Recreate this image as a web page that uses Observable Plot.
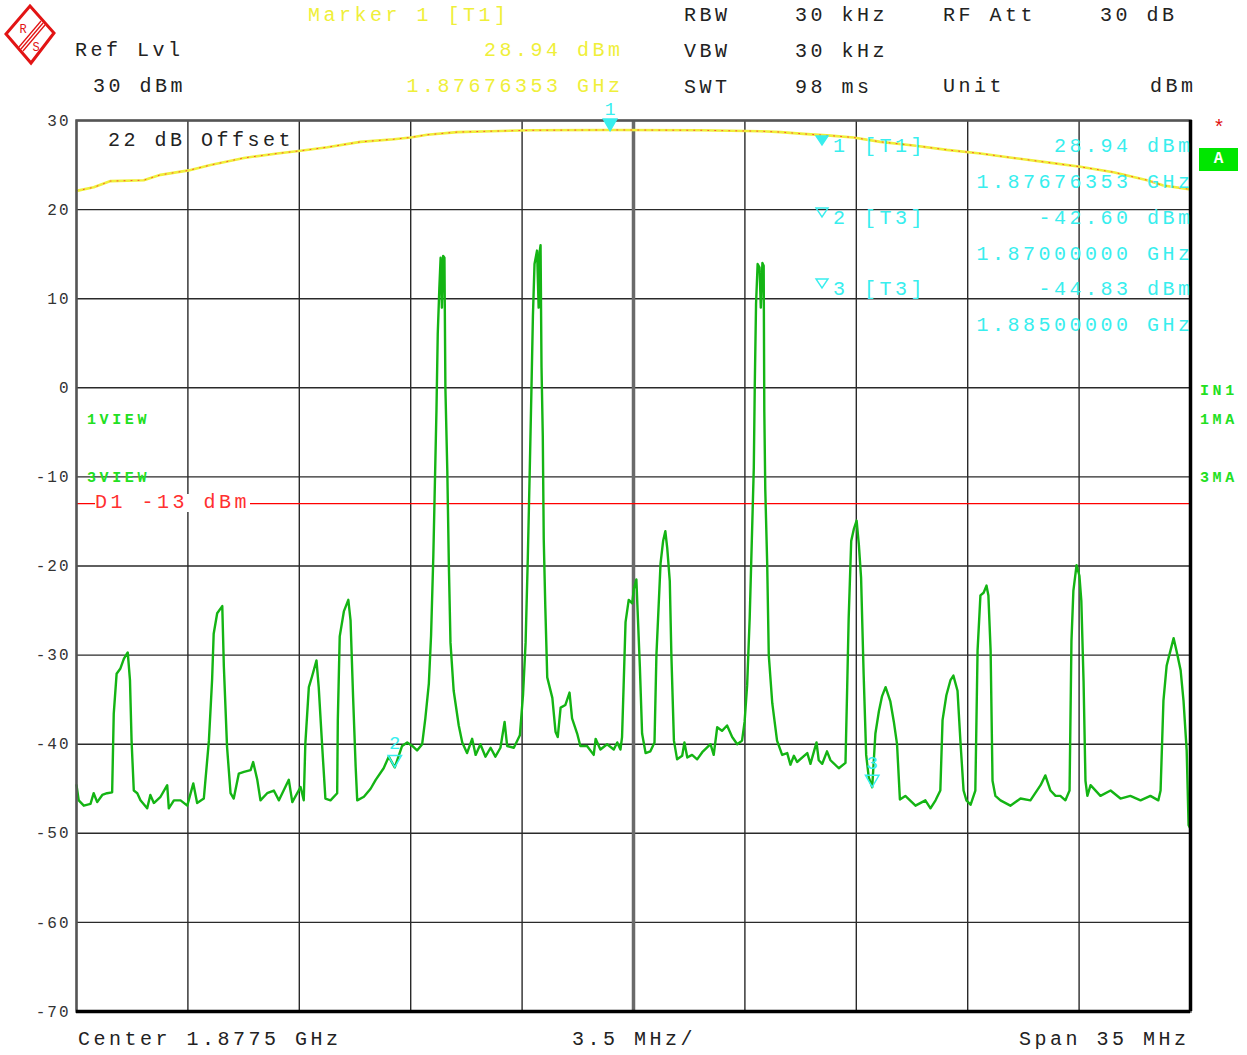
<!DOCTYPE html>
<html><head><meta charset="utf-8">
<script src="https://cdn.jsdelivr.net/npm/d3@7"></script>
<script src="https://cdn.jsdelivr.net/npm/@observablehq/plot@0.6"></script>
<style>
body{margin:0;background:#fff;}
#wrap{position:relative;width:1247px;height:1055px;overflow:hidden;font-family:"Liberation Mono",monospace;}
#wrap svg.chart{position:absolute;left:0;top:0;}
.t{position:absolute;font-size:20px;letter-spacing:3.5px;white-space:pre;line-height:18px;transform:translateY(-50%);color:#222;}
.b{font-weight:bold;font-size:15px;letter-spacing:3.6px;color:#22e022;}
g[aria-label="y-axis tick label"] text{letter-spacing:2px;}
</style></head>
<body><div id="wrap"></div>
<script>
// ---- data ----
const xDomain = [1860, 1895];            // MHz  (Center 1.8775 GHz, Span 35 MHz)
const gridFreq = [1860, 1863.5, 1867, 1870.5, 1874, 1877.5, 1881, 1884.5, 1888, 1891.5, 1895];
const centerFreq = [1877.5];
const yTicks = [30, 20, 10, 0, -10, -20, -30, -40, -50, -60, -70];
const limitLine = [-13];

// trace 3 (green), [MHz, dBm]
const trace3 = [
[1860.00,-44.6],[1860.07,-46.3],[1860.23,-46.9],[1860.44,-46.7],[1860.54,-45.5],[1860.65,-46.5],[1860.81,-45.7],[1860.96,-45.5],
[1861.12,-45.4],[1861.17,-36.6],[1861.26,-32.1],[1861.38,-31.5],[1861.49,-30.4],[1861.61,-29.7],[1861.68,-32.8],[1861.73,-39.6],
[1861.80,-45.2],[1861.91,-45.5],[1862.01,-46.3],[1862.22,-47.2],[1862.32,-45.7],[1862.43,-46.6],[1862.64,-45.9],[1862.85,-44.6],
[1862.90,-47.2],[1863.06,-46.3],[1863.27,-46.3],[1863.48,-46.9],[1863.67,-44.4],[1863.79,-46.6],[1864.00,-46.1],[1864.16,-39.6],
[1864.26,-32.8],[1864.31,-27.6],[1864.42,-25.3],[1864.58,-24.5],[1864.63,-31.3],[1864.73,-40.3],[1864.84,-45.5],[1864.94,-46.1],
[1865.10,-43.3],[1865.26,-43.1],[1865.47,-42.9],[1865.55,-42.0],[1865.68,-44.0],[1865.78,-46.3],[1865.99,-45.5],[1866.20,-45.2],
[1866.36,-46.3],[1866.67,-44.0],[1866.78,-46.5],[1867.04,-44.8],[1867.14,-46.3],[1867.19,-39.9],[1867.30,-33.6],[1867.40,-32.4],
[1867.54,-30.6],[1867.61,-33.6],[1867.72,-40.3],[1867.82,-46.1],[1867.98,-46.3],[1868.19,-45.5],[1868.21,-37.3],[1868.27,-27.9],
[1868.40,-25.1],[1868.54,-23.8],[1868.61,-26.1],[1868.69,-34.7],[1868.77,-42.5],[1868.82,-46.3],[1869.03,-45.9],[1869.24,-45.0],
[1869.40,-44.0],[1869.65,-42.7],[1869.81,-41.4],[1870.00,-42.6],[1870.23,-40.2],[1870.39,-39.8],[1870.55,-40.2],[1870.70,-40.7],
[1870.86,-40.0],[1870.96,-37.1],[1871.07,-33.2],[1871.14,-27.8],[1871.21,-19.0],[1871.25,-12.4],[1871.31,-2.4],[1871.35,6.1],
[1871.40,11.2],[1871.44,14.6],[1871.48,9.0],[1871.52,14.8],[1871.56,14.6],[1871.59,0.0],[1871.65,-9.3],[1871.70,-20.1],
[1871.75,-28.6],[1871.85,-34.0],[1872.01,-37.9],[1872.12,-39.8],[1872.27,-41.0],[1872.43,-39.4],[1872.54,-41.2],[1872.69,-40.0],
[1872.85,-41.4],[1873.01,-40.4],[1873.16,-41.4],[1873.32,-40.4],[1873.45,-37.5],[1873.53,-40.2],[1873.74,-40.4],[1873.93,-39.0],
[1874.03,-34.4],[1874.11,-28.6],[1874.18,-19.0],[1874.24,-9.3],[1874.29,-0.8],[1874.34,8.1],[1874.39,13.9],[1874.47,15.4],
[1874.52,9.0],[1874.55,15.2],[1874.58,16.0],[1874.61,2.3],[1874.65,-5.4],[1874.68,-17.0],[1874.73,-24.7],[1874.79,-32.5],
[1874.95,-34.8],[1875.05,-38.6],[1875.12,-39.2],[1875.21,-35.9],[1875.36,-35.6],[1875.49,-34.2],[1875.57,-37.1],[1875.73,-38.8],
[1875.83,-40.2],[1876.04,-40.2],[1876.25,-41.2],[1876.31,-39.4],[1876.46,-40.6],[1876.67,-40.0],[1876.88,-40.6],[1876.99,-39.8],
[1877.09,-40.6],[1877.14,-39.2],[1877.19,-33.4],[1877.25,-26.3],[1877.35,-23.8],[1877.46,-24.2],[1877.51,-22.6],[1877.59,-21.5],
[1877.63,-25.1],[1877.70,-31.3],[1877.77,-38.8],[1877.88,-41.0],[1878.03,-40.8],[1878.16,-39.8],[1878.22,-30.0],[1878.35,-19.7],
[1878.43,-17.2],[1878.50,-16.1],[1878.56,-18.0],[1878.64,-21.7],[1878.69,-30.0],[1878.77,-39.6],[1878.87,-41.7],[1879.03,-41.3],
[1879.10,-39.8],[1879.19,-41.5],[1879.34,-41.2],[1879.50,-41.7],[1879.66,-40.9],[1879.92,-40.0],[1880.02,-41.2],[1880.13,-38.1],
[1880.28,-38.5],[1880.44,-37.9],[1880.60,-39.2],[1880.76,-40.0],[1880.91,-39.6],[1880.99,-37.5],[1881.07,-33.4],[1881.15,-25.9],
[1881.23,-15.5],[1881.28,-8.9],[1881.31,0.2],[1881.35,9.4],[1881.40,13.9],[1881.46,13.5],[1881.50,9.0],[1881.55,14.0],
[1881.59,13.7],[1881.61,-2.7],[1881.64,-11.4],[1881.70,-19.7],[1881.75,-30.0],[1881.86,-35.4],[1882.01,-39.6],[1882.17,-41.2],
[1882.33,-41.0],[1882.43,-42.3],[1882.54,-41.3],[1882.64,-42.0],[1882.96,-41.0],[1883.06,-42.2],[1883.25,-39.8],[1883.32,-41.8],
[1883.43,-42.2],[1883.58,-40.8],[1883.69,-41.8],[1883.95,-42.7],[1884.16,-42.1],[1884.21,-34.2],[1884.26,-25.9],[1884.34,-17.2],
[1884.42,-15.9],[1884.51,-14.9],[1884.58,-17.6],[1884.65,-21.3],[1884.73,-32.1],[1884.81,-41.2],[1884.89,-43.7],[1885.00,-44.83],
[1885.10,-38.8],[1885.21,-36.3],[1885.31,-34.6],[1885.42,-33.6],[1885.57,-35.2],[1885.68,-37.5],[1885.78,-40.0],[1885.87,-46.2],
[1886.04,-45.8],[1886.36,-46.9],[1886.67,-46.3],[1886.83,-47.2],[1886.99,-46.3],[1887.14,-45.2],[1887.21,-37.3],[1887.33,-34.5],
[1887.46,-32.8],[1887.55,-32.3],[1887.68,-34.0],[1887.77,-39.6],[1887.87,-45.2],[1887.96,-46.3],[1888.09,-46.8],[1888.24,-45.2],
[1888.31,-29.5],[1888.40,-23.3],[1888.50,-23.0],[1888.59,-22.2],[1888.65,-23.3],[1888.72,-29.5],[1888.78,-44.1],[1888.87,-45.8],
[1889.03,-46.3],[1889.34,-46.9],[1889.66,-46.1],[1889.97,-46.3],[1890.29,-44.6],[1890.44,-43.5],[1890.60,-45.2],[1890.76,-45.8],
[1890.91,-45.8],[1891.07,-46.3],[1891.20,-45.2],[1891.26,-28.4],[1891.32,-22.8],[1891.42,-19.9],[1891.51,-21.1],[1891.57,-23.9],
[1891.64,-32.9],[1891.70,-44.1],[1891.76,-45.8],[1891.86,-44.6],[1892.17,-45.8],[1892.49,-45.2],[1892.80,-46.1],[1893.11,-45.8],
[1893.43,-46.3],[1893.74,-45.8],[1893.99,-46.3],[1894.06,-45.2],[1894.15,-35.1],[1894.25,-31.2],[1894.37,-29.5],[1894.47,-28.1],
[1894.56,-29.5],[1894.69,-31.7],[1894.78,-35.1],[1894.88,-40.7],[1894.94,-49.1],[1895.00,-49.5]
];

// trace 1 (yellow), [MHz, dBm]
const trace1 = [
[1860.00,22.1],[1860.54,22.5],[1861.07,23.2],[1862.11,23.3],[1862.64,23.9],[1863.52,24.4],[1864.21,25.0],[1865.26,25.8],
[1866.31,26.3],[1867.04,26.6],[1867.88,27.0],[1868.92,27.6],[1869.97,27.9],[1870.49,28.1],[1871.02,28.4],[1871.96,28.7],
[1873.01,28.8],[1874.26,28.9],[1876.76,28.94],[1879.60,28.9],[1881.49,28.8],[1882.12,28.7],[1882.84,28.5],[1883.69,28.3],
[1884.41,28.1],[1885.26,27.6],[1886.30,27.2],[1887.35,26.7],[1888.40,26.3],[1889.44,25.8],[1890.50,25.3],[1891.54,24.8],
[1892.58,24.2],[1893.64,23.3],[1894.15,22.7],[1894.94,22.3],[1895.00,22.3]
];

// markers
const markerId = ["1", "2", "3"];
const markerTrace = ["T1", "T3", "T3"];
const markerFreq = [1876.76353, 1870.0, 1885.0];   // MHz
const markerLevel = [28.94, -42.60, -44.83];       // dBm

// header settings
const settingLabels = ["RBW", "VBW", "SWT"];
const settingValues = ["30 kHz", "30 kHz", "98 ms"];

// ---- build ----
const green = trace3.map(([f, v]) => ({f, v}));
const yellow = trace1.map(([f, v]) => ({f, v}));
const markers = markerId.map((id, i) => ({id, f: markerFreq[i], v: markerLevel[i], filled: i === 0}));
const mFilled = markers.filter(d => d.filled), mOpen = markers.filter(d => !d.filled);
const CYAN = "#38eeee", YEL = "#efef3a";

const chart = Plot.plot({
  width: 1247, height: 1055,
  marginLeft: 76, marginRight: 57, marginTop: 120, marginBottom: 44,
  x: {domain: xDomain, axis: null},
  y: {domain: [-70, 30], axis: null},
  style: {fontFamily: "'Liberation Mono', monospace", fontSize: "16px", color: "#333", background: "transparent", overflow: "visible"},
  marks: [
    Plot.ruleY(yTicks, {stroke: "#2a2a2a", strokeWidth: 1.4}),
    Plot.ruleX(gridFreq, {stroke: "#2a2a2a", strokeWidth: 1.4}),
    Plot.ruleX(centerFreq, {stroke: "#6a6a6a", strokeWidth: 3.5}),
    Plot.ruleY(limitLine, {stroke: "#ff0000", strokeWidth: 1.2}),
    Plot.line(yellow, {x: "f", y: "v", stroke: YEL, strokeWidth: 2.6}),
    Plot.line(yellow, {x: "f", y: "v", stroke: "#ff5030", strokeWidth: 1, strokeDasharray: "1,6"}),
    Plot.line(green, {x: "f", y: "v", stroke: "#14b414", strokeWidth: 2.4}),
    Plot.frame({stroke: "#555", strokeWidth: 2.5}),
    Plot.ruleX([xDomain[1]], {stroke: "#000", strokeWidth: 3.5}),
    Plot.ruleY([-70], {stroke: "#000", strokeWidth: 3.5}),
    Plot.axisY({ticks: yTicks, tickSize: 0, tickPadding: 6, tickFormat: d => String(d), fontSize: 16, fill: "#333", label: null}),
    Plot.dot(mFilled, {x: "f", y: "v", symbol: "triangle", rotate: 180, r: 5, fill: CYAN, stroke: CYAN, dy: -7}),
    Plot.dot(mOpen, {x: "f", y: "v", symbol: "triangle", rotate: 180, r: 5, fill: "none", stroke: CYAN, strokeWidth: 1.5, dy: -8}),
    Plot.text(mFilled, {x: "f", y: "v", text: "id", fill: CYAN, fontSize: 18, dy: -21}),
    Plot.text(mOpen, {x: "f", y: "v", text: "id", fill: CYAN, fontSize: 19, dy: -24})
  ]
});
chart.classList.add("chart");
const wrap = document.getElementById("wrap");
wrap.appendChild(chart);

const LS = 3.5;
function put(txt, x, y, o = {}) {
  const d = document.createElement("div");
  d.className = "t" + (o.cls ? " " + o.cls : "");
  d.textContent = txt;
  if (o.color) d.style.color = o.color;
  d.style.top = y + "px";
  if (o.anchor === "end") d.style.right = (1247 - x - (o.ls ?? LS)) + "px";
  else if (o.anchor === "middle") { d.style.left = x + "px"; d.style.transform = "translate(-50%,-50%)"; }
  else d.style.left = x + "px";
  if (o.bg) d.style.background = o.bg;
  wrap.appendChild(d);
  return d;
}

// logo
wrap.insertAdjacentHTML("beforeend", `
<svg style="position:absolute;left:0;top:0" width="70" height="70">
 <polygon points="30,6 54,33 31,63 6,34" fill="none" stroke="#e21414" stroke-width="3" stroke-linejoin="miter"/>
 <line x1="19" y1="47" x2="41" y2="21" stroke="#e21414" stroke-width="1.3"/>
 <line x1="21" y1="49" x2="43" y2="23" stroke="#e21414" stroke-width="1.3"/>
 <line x1="23" y1="51" x2="45" y2="25" stroke="#e21414" stroke-width="1.3"/>
 <text x="23" y="33" font-family="Liberation Mono" font-size="12" fill="#e21414" text-anchor="middle">R</text>
 <text x="36" y="51" font-family="Liberation Mono" font-size="12" fill="#e21414" text-anchor="middle">S</text>
</svg>`);

// header
put("Marker " + markerId[0] + " [" + markerTrace[0] + "]", 308, 16, {color: YEL});
put("Ref Lvl", 75, 51);
put("30 dBm", 93, 87);
put(markerLevel[0].toFixed(2) + " dBm", 620, 51, {color: YEL, anchor: "end"});
put((markerFreq[0] / 1000).toFixed(8) + " GHz", 620, 87, {color: YEL, anchor: "end"});
settingLabels.forEach((s, i) => { put(s, 684, 16 + i * 36); put(settingValues[i], 795, 16 + i * 36); });
put("RF Att", 943, 16);
put("30 dB", 1100, 16);
put("Unit", 943, 87);
put("dBm", 1193, 87, {anchor: "end"});

// in-plot annotations
put("22 dB Offset", 108, 141);
markers.forEach((m, i) => {
  const y0 = 147 + i * 71.5;
  wrap.insertAdjacentHTML("beforeend",
    `<svg style="position:absolute;left:814px;top:${y0 - 13}px" width="16" height="14"><polygon points="2,2 14,2 8,11" fill="${m.filled ? CYAN : "none"}" stroke="${CYAN}" stroke-width="1.4"/></svg>`);
  put(m.id + " [" + markerTrace[i] + "]", 833, y0, {color: CYAN});
  put(m.v.toFixed(2) + " dBm", 1190, y0, {color: CYAN, anchor: "end"});
  put((m.f / 1000).toFixed(8) + " GHz", 1190, y0 + 36, {color: CYAN, anchor: "end"});
});
put("1VIEW", 87, 421, {cls: "b"});
put("3VIEW", 87, 479, {cls: "b"});
put("D1 -13 dBm", 95, 503, {color: "#ff3030", bg: "#fff"});

// right side
put("*", 1213, 129, {color: "#e01010"});
wrap.insertAdjacentHTML("beforeend", `<div style="position:absolute;left:1199px;top:148px;width:39px;height:23px;background:#00e600;color:#fff;font:bold 16px 'Liberation Mono';text-align:center;line-height:23px">A</div>`);
put("IN1", 1200, 392, {cls: "b"});
put("1MA", 1200, 421, {cls: "b"});
put("3MA", 1200, 479, {cls: "b"});

// footer
put("Center " + ((xDomain[0] + xDomain[1]) / 2000) + " GHz", 78, 1040);
put(((gridFreq[1] - gridFreq[0])) + " MHz/", 634, 1040, {anchor: "middle"});
put("Span " + (xDomain[1] - xDomain[0]) + " MHz", 1186, 1040, {anchor: "end"});
</script>
</body></html>
